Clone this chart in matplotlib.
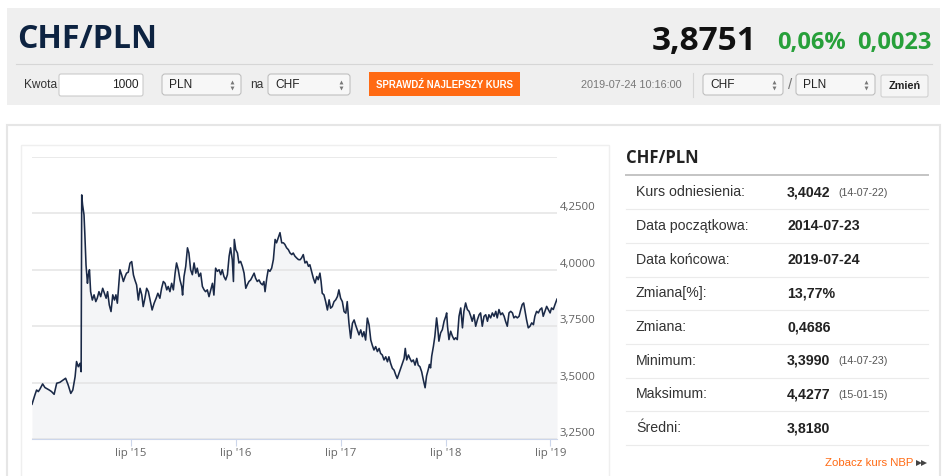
import pandas as pd
import matplotlib
matplotlib.use('Agg')
import matplotlib.pyplot as plt
from matplotlib.patches import Rectangle, FancyBboxPatch

# Data (days since start date, CHF/PLN rate)
START = pd.Timestamp('2014-07-23')
END = pd.Timestamp('2019-07-24')

day_offsets = [
    0, 10, 16, 22, 28, 37, 45, 53, 60, 68, 77, 86, 97, 109, 117, 126, 135, 142, 150, 155,
    161, 167, 171, 173, 176, 181, 184, 188, 193, 196, 200, 204, 210, 216, 222, 227, 233, 239,
    246, 252, 258, 263, 269, 275, 281, 287, 292, 297, 302, 306, 312, 318, 324, 329, 335, 341,
    347, 353, 358, 364, 370, 376, 382, 387, 393, 399, 405, 411, 418, 425, 432, 438, 445, 451, 457,
    463, 469, 474, 480, 486, 492, 498, 503, 509, 515, 521, 524, 529, 535, 541, 546, 552, 558,
    564, 570, 575, 581, 587, 593, 599, 604, 610, 616, 622, 628, 633, 639, 645, 651, 657, 662,
    668, 674, 680, 686, 691, 697, 701, 704, 709, 715, 720, 726, 732, 738, 744, 749, 755, 761,
    767, 773, 778, 784, 790, 796, 802, 807, 811, 817, 822, 828, 834, 840, 846, 851, 857, 863,
    869, 875, 880, 886, 892, 898, 904, 909, 915, 921, 927,
    933, 938, 944, 950, 956, 962, 967, 973, 979, 985, 991, 996, 1002, 1006, 1010, 1016, 1022,
    1028, 1034, 1039, 1045, 1051, 1057, 1063, 1068, 1074, 1080, 1086, 1092, 1097, 1103, 1109,
    1115, 1121, 1126, 1132, 1138, 1144, 1150, 1155, 1161, 1167, 1173, 1179, 1184, 1190, 1196,
    1202, 1208, 1213, 1219, 1225, 1231, 1237, 1242, 1248, 1254, 1260, 1266, 1271, 1277, 1283,
    1289, 1295, 1299, 1304, 1310, 1315, 1321, 1327, 1333, 1339, 1344, 1350, 1356, 1362,
    1368, 1373, 1379, 1383, 1387, 1391, 1397, 1402, 1408, 1412, 1416, 1422, 1428, 1434, 1440,
    1443, 1446, 1451, 1457, 1463, 1469, 1474, 1480, 1486, 1492, 1498, 1503, 1509, 1515, 1521,
    1527, 1532, 1538, 1544, 1550, 1556, 1561, 1567, 1573, 1579, 1585, 1590, 1596, 1602, 1608,
    1614, 1619, 1625, 1631, 1637, 1643, 1648, 1654, 1660, 1666, 1672, 1677, 1683, 1689, 1695,
    1701, 1706, 1711, 1716, 1721, 1727, 1733, 1739, 1745, 1750, 1756, 1762, 1768, 1774, 1779,
    1785, 1791, 1797, 1803, 1808, 1814, 1820, 1827,
]
rates = [
    3.405, 3.446, 3.468, 3.461, 3.473, 3.495, 3.479, 3.473, 3.468, 3.461, 3.449, 3.498, 3.502,
    3.513, 3.520, 3.490, 3.453, 3.468, 3.527, 3.594, 3.571, 3.586, 3.549, 4.331, 4.287, 4.243,
    4.154, 4.021, 3.940, 3.977, 4.000, 3.903, 3.866, 3.889, 3.859, 3.874, 3.903, 3.881, 3.918,
    3.896, 3.874, 3.903, 3.844, 3.815, 3.889, 3.866, 3.889, 3.852, 3.933, 4.000, 3.977, 3.948,
    3.970, 3.985, 3.989, 4.029, 4.036, 3.977, 3.955, 3.933, 3.866, 3.918, 3.889, 3.837, 3.874,
    3.918, 3.903, 3.866, 3.822, 3.852, 3.874, 3.896, 3.874, 3.918, 3.948,
    3.940, 3.911, 3.926, 3.903, 3.940, 3.911, 3.985, 4.030, 4.000, 3.955, 3.926, 3.888, 3.970,
    4.015, 4.097, 4.074, 4.000, 3.978, 4.030, 3.985, 4.007, 3.970, 3.985, 3.926, 3.911, 3.903,
    3.911, 3.881, 3.911, 3.940, 3.888, 4.007, 3.993, 4.000, 3.978, 4.000, 3.970, 3.955, 3.978,
    4.060, 4.097, 4.045, 3.948, 4.134, 4.089, 4.074, 4.030, 4.037, 4.015, 3.985, 3.918, 3.933,
    3.948, 3.955, 3.970, 3.985, 3.963, 3.948, 3.955, 3.940, 3.933, 3.948, 3.903, 3.963, 4.000,
    3.993, 4.007, 4.045, 4.134, 4.119, 4.141, 4.164, 4.119, 4.119, 4.112, 4.097, 4.089, 4.074,
    4.067, 4.074, 4.060, 4.052, 4.045,
    4.044, 4.052, 4.067, 4.030, 4.037, 4.015, 4.022, 3.993, 3.963, 3.941, 3.970, 3.956, 3.985,
    3.948, 3.896, 3.889, 3.859, 3.822, 3.867, 3.830, 3.837, 3.859, 3.867, 3.882, 3.911, 3.874,
    3.859, 3.815, 3.808, 3.859, 3.763, 3.697, 3.763, 3.778, 3.756, 3.734, 3.712, 3.734, 3.704,
    3.726, 3.689, 3.786, 3.756, 3.689, 3.667, 3.645, 3.660, 3.638, 3.652, 3.630, 3.623, 3.601,
    3.615, 3.593, 3.615, 3.586, 3.564, 3.556, 3.534, 3.519, 3.541, 3.564, 3.586, 3.608, 3.652,
    3.601, 3.623, 3.608, 3.593, 3.601, 3.578, 3.608, 3.578, 3.571, 3.549, 3.512,
    3.478, 3.530, 3.559, 3.581, 3.566, 3.618, 3.662, 3.706, 3.787, 3.743, 3.684, 3.721, 3.735,
    3.772, 3.794, 3.809, 3.750, 3.691, 3.728, 3.706, 3.691, 3.699, 3.691, 3.794, 3.831, 3.743,
    3.816, 3.853, 3.824, 3.816, 3.794, 3.772, 3.801, 3.750, 3.779, 3.801, 3.809, 3.750, 3.794,
    3.801, 3.772, 3.801, 3.787, 3.809, 3.794, 3.816, 3.787, 3.824, 3.801, 3.809, 3.794, 3.772,
    3.750, 3.809, 3.816, 3.809, 3.787, 3.794, 3.787, 3.794, 3.824, 3.846, 3.853, 3.816, 3.779,
    3.743, 3.750, 3.765, 3.757, 3.794, 3.816, 3.809, 3.824, 3.831, 3.794, 3.816, 3.838, 3.824,
    3.809, 3.831, 3.824, 3.846, 3.870,
]

y_ticks = [3.25, 3.5, 3.75, 4.0, 4.25, 4.5]
y_labels = ['3,2500', '3,5000', '3,7500', '4,0000', '4,2500']
x_tick_dates = ['2015-07-01', '2016-07-01', '2017-07-01', '2018-07-01', '2019-07-01']
x_tick_labels = ["lip '15", "lip '16", "lip '17", "lip '18", "lip '19"]

pair = 'CHF/PLN'
last_rate = '3,8751'
change_pct = '0,06%'
change_abs = '0,0023'
timestamp = '2019-07-24 10:16:00'

stat_labels = ['Kurs odniesienia:', 'Data początkowa:', 'Data końcowa:', 'Zmiana[%]:',
               'Zmiana:', 'Minimum:', 'Maksimum:', 'Średni:']
stat_values = ['3,4042', '2014-07-23', '2019-07-24', '13,77%', '0,4686', '3,3990', '4,4277', '3,8180']
stat_notes = ['(14-07-22)', '', '', '', '', '(14-07-23)', '(15-01-15)', '']

W, H = 945, 476
ORANGE = '#ff6a13'
GREEN = '#27a03a'
HEAD = ['Open Sans', 'DejaVu Sans']
ARIAL = ['Liberation Sans', 'DejaVu Sans']

fig = plt.figure(figsize=(W / 100, H / 100), dpi=100)

# page in pixel coordinates
page = fig.add_axes([0, 0, 1, 1])
page.set_xlim(0, W)
page.set_ylim(H, 0)
page.axis('off')


def rect(x0, y0, x1, y1, fc='none', ec='none', lw=0.75, r=0):
    if r:
        p = FancyBboxPatch((x0, y0), x1 - x0, y1 - y0, boxstyle=f'round,pad=0,rounding_size={r}',
                           fc=fc, ec=ec, lw=lw)
    else:
        p = Rectangle((x0, y0), x1 - x0, y1 - y0, fc=fc, ec=ec, lw=lw)
    page.add_patch(p)


def select(x0, x1, label):
    rect(x0, 74, x1, 95, fc='#f7f7f7', ec='#bcbcbc', lw=0.75, r=3)
    page.text(x0 + 7, 84.5, label, fontsize=8.6, family=ARIAL, color='#222', va='center')
    page.plot([x1 - 9], [81.5], marker='^', ms=2.8, color='#777', mew=0)
    page.plot([x1 - 9], [87.5], marker='v', ms=2.8, color='#777', mew=0)


# header box
rect(7, 8, 940, 105, fc='#efefef')
page.text(17, 48.3, pair, fontsize=23, fontweight='bold', family=HEAD, color='#0d2341', va='baseline')
page.text(757, 49.5, last_rate, fontsize=24, fontweight='bold', family=HEAD, color='#111', ha='right', va='baseline')
page.text(777, 49.5, change_pct, fontsize=17, fontweight='bold', family=HEAD, color=GREEN, va='baseline')
page.text(931, 49.5, change_abs, fontsize=17, fontweight='bold', family=HEAD, color=GREEN, ha='right', va='baseline')
page.plot([16, 932], [64, 64], color='#d6d6d6', lw=0.8)

# controls row
page.text(24, 85, 'Kwota', fontsize=8.6, family=ARIAL, color='#333', va='center')
rect(59, 74, 143, 96, fc='white', ec='#c8c8c8', lw=0.75, r=2)
page.text(139, 85, '1000', fontsize=8.6, family=ARIAL, color='#222', ha='right', va='center')
select(162, 241, 'PLN')
page.text(250, 85, 'na', fontsize=8.6, family=ARIAL, color='#333', va='center')
select(268, 350, 'CHF')
rect(369, 72, 520, 96, fc=ORANGE)
page.text(444.5, 84.5, 'SPRAWDŹ NAJLEPSZY KURS', fontsize=6.9, fontweight='bold', family=ARIAL,
          color='white', ha='center', va='center')
page.text(682, 85, timestamp, fontsize=7.8, family=ARIAL, color='#777', ha='right', va='center')
page.plot([693, 693], [73, 97], color='#d6d6d6', lw=0.8)
select(703, 783, 'CHF')
page.text(790, 85, '/', fontsize=11, family=ARIAL, color='#777', ha='center', va='center')
select(796, 875, 'PLN')
rect(881, 75, 928, 97, fc='#f5f5f5', ec='#cfcfcf', lw=0.75, r=2)
page.text(904.5, 86, 'Zmień', fontsize=7.8, fontweight='bold', family=ARIAL, color='#222', ha='center', va='center')

# white content panel and chart box
rect(7, 125, 940, 490, fc='white', ec='#e6e6e6', lw=1.5)
rect(21, 145, 609, 490, fc='white', ec='#efefef', lw=1)

# chart
px_l, px_r, px_t, px_b = 32, 557, 156.7, 439.3
ax = fig.add_axes([px_l / W, 1 - px_b / H, (px_r - px_l) / W, (px_b - px_t) / H])
ax.patch.set_alpha(0)

dates = START + pd.to_timedelta(day_offsets, unit='D')
ax.fill_between(dates, rates, y_ticks[0], color='#f4f5f7', lw=0, zorder=1)
ax.plot(dates, rates, color='#1a2947', lw=1.15, zorder=2)

ax.set_xlim(START, END)
ax.set_ylim(y_ticks[0], y_ticks[-1])
ax.set_yticks(y_ticks)
ax.yaxis.set_ticklabels([])
ax.tick_params(axis='y', length=0)
ax.grid(axis='y', color='#e4e4e4', lw=1.1)
ax.set_axisbelow('line')
for side in ['top', 'left', 'right']:
    ax.spines[side].set_visible(False)
ax.spines['bottom'].set_color('#ccd6eb')
ax.spines['bottom'].set_linewidth(0.8)

ax.set_xticks(pd.to_datetime(x_tick_dates))
ax.set_xticklabels(x_tick_labels, family=HEAD)
ax.tick_params(axis='x', length=5, width=0.8, color='#ccd6eb', labelcolor='#666', labelsize=8.2, pad=1.5)

for v, lab in zip(y_ticks, y_labels):
    ax.annotate(lab, xy=(1, v), xycoords=('axes fraction', 'data'), xytext=(2.5, 5.5),
                textcoords='offset pixels', va='center', ha='left', fontsize=8.2, family=HEAD, color='#606060')

# statistics table
page.text(626, 158, pair, fontsize=12, fontweight='bold', family=HEAD, color='#222', va='center')
page.plot([626, 928], [174.5, 174.5], color='#c4c4c4', lw=1.4)
row_h = 33.7
for i, (lab, val, note) in enumerate(zip(stat_labels, stat_values, stat_notes)):
    yc = 192.3 + i * row_h
    page.text(636, yc, lab, fontsize=10.2, family=ARIAL, color='#333', va='center')
    page.text(787, yc, val, fontsize=10.2, fontweight='bold', family=ARIAL, color='#222', va='center')
    if note:
        page.text(838, yc + 0.5, note, fontsize=7.7, family=ARIAL, color='#555', va='center')
    page.plot([626, 928], [yc + row_h / 2, yc + row_h / 2], color='#ebebeb', lw=0.8)

page.text(913, 463, 'Zobacz kurs NBP', fontsize=8.2, family=ARIAL, color=ORANGE, ha='right', va='center')
page.plot([919, 924], [463, 463], ls='none', marker='>', ms=4.2, color='#444', mew=0)

fig.savefig('out.png', dpi=100)
